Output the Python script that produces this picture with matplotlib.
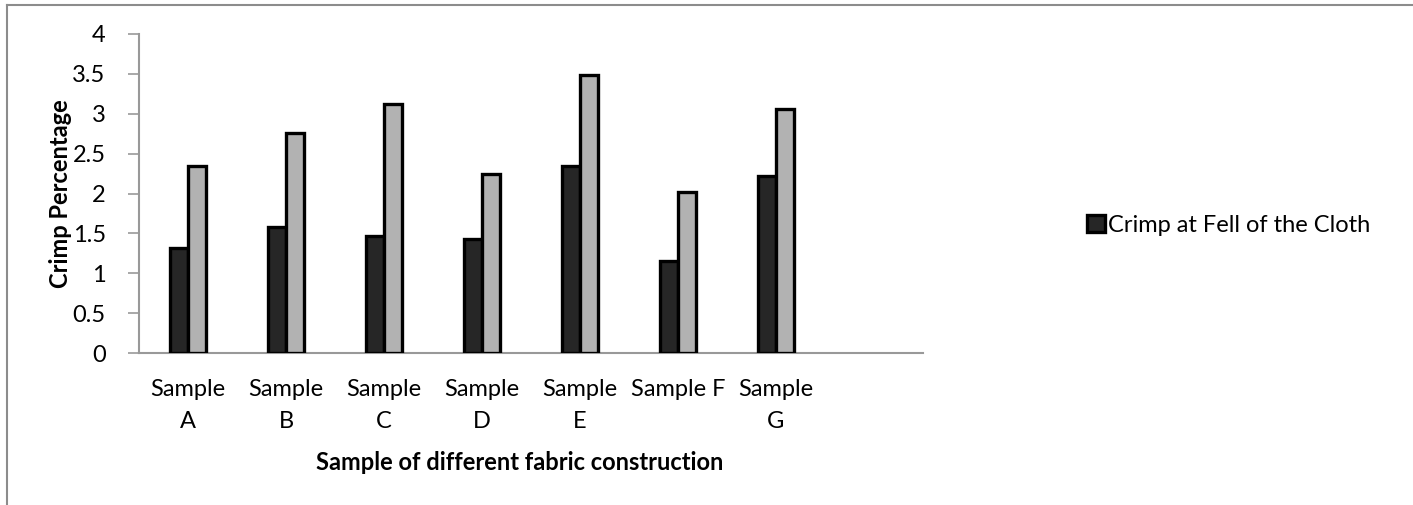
import matplotlib
matplotlib.use("Agg")
import matplotlib.pyplot as plt
from matplotlib.lines import Line2D
import numpy as np

plt.rcParams['font.family'] = ['Lato', 'DejaVu Sans']

# data
categories = ["Sample\nA", "Sample\nB", "Sample\nC", "Sample\nD", "Sample\nE", "Sample F", "Sample\nG"]
crimp_fell = [1.32, 1.58, 1.47, 1.43, 2.34, 1.15, 2.22]
crimp_other = [2.34, 2.76, 3.12, 2.25, 3.48, 2.02, 3.06]
yticks = [0, 0.5, 1, 1.5, 2, 2.5, 3, 3.5, 4]
ytick_labels = ["0", "0.5", "1", "1.5", "2", "2.5", "3", "3.5", "4"]

fs = 17

fig = plt.figure(figsize=(14.13, 5.05), dpi=100)
ax = fig.add_axes([139/1413, 1-353/505, (923-139)/1413, (353-34)/505])

x = np.arange(len(categories))
w = 0.18
b1 = ax.bar(x - w/2, crimp_fell, w, color='#262626', edgecolor='black', linewidth=2.4,
            label='Crimp at Fell of the Cloth', zorder=3)
b2 = ax.bar(x + w/2, crimp_other, w, color='#b2b2b2', edgecolor='black', linewidth=2.4,
            zorder=3)

# one empty slot after the last sample, like the original
ax.set_xlim(-0.5, len(categories) + 0.5)
ax.set_ylim(0, 4)

ax.set_yticks(yticks)
ax.set_yticklabels(ytick_labels, fontsize=fs)
ax.tick_params(axis='y', length=8, width=1.2, color='#999999', pad=16)

ax.set_xticks(x)
ax.set_xticklabels(categories, fontsize=fs, va='top', linespacing=1.6)
ax.tick_params(axis='x', length=0, pad=19)

for s in ['top', 'right']:
    ax.spines[s].set_visible(False)
for s in ['left', 'bottom']:
    ax.spines[s].set_color('#999999')
    ax.spines[s].set_linewidth(1.5)

ax.set_ylabel('Crimp Percentage', fontsize=fs, fontweight='bold', labelpad=0)
fig.text(520/1413, 1-463/505, 'Sample of different fabric construction',
         fontsize=fs, fontweight='bold', ha='center', va='center')

fig.legend(handles=[b1], loc='center left', bbox_to_anchor=(1075/1413, 1-225/505),
           frameon=False, fontsize=17, handlelength=0.75, handleheight=0.75,
           handletextpad=0.15, borderpad=0)

# outer chart border (only top and left show in the crop)
fig.add_artist(Line2D([7/1413, 7/1413], [0, 1-5/505], transform=fig.transFigure,
                      color='#8c8c8c', linewidth=1.5))
fig.add_artist(Line2D([7/1413, 1], [1-5/505, 1-5/505], transform=fig.transFigure,
                      color='#8c8c8c', linewidth=1.5))

fig.savefig('out.png', dpi=100)
